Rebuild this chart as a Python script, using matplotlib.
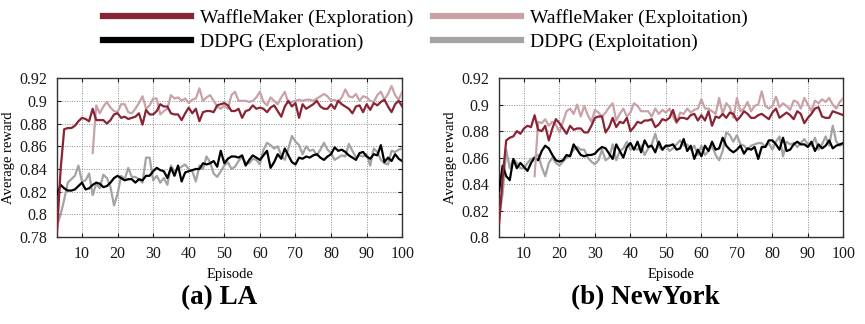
import matplotlib
matplotlib.use("Agg")
import matplotlib.pyplot as plt
from matplotlib.ticker import FuncFormatter, MultipleLocator

plt.rcParams['font.family'] = ['Liberation Serif', 'DejaVu Serif']

episodes = list(range(3, 101))
episodes_late = list(range(13, 101))

# ---- LA ----
la_wm_explore = [0.785, 0.840, 0.875, 0.876, 0.876, 0.878, 0.882, 0.885, 0.884, 0.882,
                 0.893, 0.883, 0.883, 0.883, 0.880, 0.883, 0.888, 0.889, 0.885, 0.886,
                 0.884, 0.885, 0.886, 0.889, 0.879, 0.892, 0.888, 0.888, 0.891, 0.897,
                 0.895, 0.895, 0.889, 0.888, 0.888, 0.883, 0.889, 0.894, 0.889, 0.893,
                 0.882, 0.890, 0.891, 0.891, 0.890, 0.896, 0.897, 0.898, 0.896, 0.891,
                 0.891, 0.893, 0.885, 0.891, 0.892, 0.896, 0.893, 0.894, 0.893, 0.890,
                 0.894, 0.896, 0.891, 0.886, 0.895, 0.900, 0.895, 0.898, 0.885, 0.897,
                 0.893, 0.895, 0.897, 0.900, 0.895, 0.893, 0.893, 0.897, 0.893, 0.900,
                 0.897, 0.895, 0.893, 0.889, 0.895, 0.896, 0.890, 0.897, 0.892, 0.898,
                 0.896, 0.899, 0.901, 0.895, 0.890, 0.897, 0.900, 0.895]
la_wm_exploit = [0.854, 0.896, 0.889, 0.895, 0.899, 0.894, 0.891, 0.890, 0.897, 0.897,
                 0.890, 0.889, 0.893, 0.898, 0.904, 0.893, 0.896, 0.902, 0.902, 0.888,
                 0.891, 0.893, 0.905, 0.902, 0.903, 0.900, 0.902, 0.898, 0.901, 0.902,
                 0.911, 0.900, 0.903, 0.905, 0.900, 0.895, 0.893, 0.896, 0.893, 0.905,
                 0.908, 0.900, 0.900, 0.900, 0.899, 0.900, 0.903, 0.908, 0.899, 0.896,
                 0.903, 0.900, 0.897, 0.903, 0.908, 0.898, 0.899, 0.900, 0.901, 0.900,
                 0.901, 0.901, 0.900, 0.902, 0.904, 0.906, 0.904, 0.900, 0.901, 0.899,
                 0.903, 0.910, 0.904, 0.903, 0.906, 0.900, 0.904, 0.903, 0.900, 0.899,
                 0.905, 0.908, 0.901, 0.906, 0.913, 0.905, 0.901, 0.908]
la_ddpg_explore = [0.818, 0.826, 0.823, 0.821, 0.821, 0.822, 0.825, 0.828, 0.822, 0.823,
                   0.826, 0.828, 0.827, 0.824, 0.825, 0.828, 0.832, 0.834, 0.832, 0.830,
                   0.831, 0.831, 0.828, 0.831, 0.830, 0.834, 0.834, 0.838, 0.841, 0.839,
                   0.838, 0.832, 0.841, 0.834, 0.843, 0.829, 0.837, 0.838, 0.839, 0.840,
                   0.840, 0.845, 0.844, 0.845, 0.847, 0.842, 0.856, 0.845, 0.849, 0.851,
                   0.851, 0.850, 0.852, 0.843, 0.848, 0.852, 0.850, 0.848, 0.852, 0.856,
                   0.841, 0.846, 0.853, 0.849, 0.858, 0.852, 0.846, 0.844, 0.850, 0.849,
                   0.851, 0.850, 0.852, 0.853, 0.850, 0.848, 0.851, 0.853, 0.859, 0.856,
                   0.857, 0.855, 0.852, 0.850, 0.848, 0.854, 0.855, 0.851, 0.849, 0.853,
                   0.852, 0.861, 0.846, 0.850, 0.847, 0.853, 0.849, 0.847]
la_ddpg_exploit = [0.790, 0.800, 0.813, 0.828, 0.831, 0.834, 0.843, 0.829, 0.830, 0.836,
                   0.817, 0.827, 0.823, 0.835, 0.832, 0.824, 0.808, 0.818, 0.834, 0.831,
                   0.841, 0.833, 0.833, 0.831, 0.828, 0.850, 0.850, 0.830, 0.834, 0.828,
                   0.832, 0.826, 0.843, 0.838, 0.840, 0.842, 0.844, 0.840, 0.838, 0.829,
                   0.843, 0.840, 0.851, 0.846, 0.836, 0.833, 0.838, 0.843, 0.846, 0.840,
                   0.842, 0.847, 0.851, 0.845, 0.845, 0.849, 0.848, 0.844, 0.857, 0.863,
                   0.861, 0.858, 0.860, 0.852, 0.848, 0.858, 0.869, 0.864, 0.861, 0.853,
                   0.860, 0.856, 0.857, 0.852, 0.857, 0.863, 0.857, 0.854, 0.848, 0.850,
                   0.852, 0.851, 0.862, 0.856, 0.850, 0.852, 0.851, 0.853, 0.843, 0.858,
                   0.855, 0.848, 0.845, 0.844, 0.856, 0.855, 0.857, 0.858]

# ---- NewYork ----
ny_wm_explore = [0.810, 0.845, 0.873, 0.875, 0.876, 0.880, 0.878, 0.882, 0.884, 0.883,
                 0.892, 0.881, 0.880, 0.884, 0.873, 0.882, 0.889, 0.886, 0.882, 0.878,
                 0.884, 0.881, 0.882, 0.882, 0.879, 0.879, 0.884, 0.890, 0.891, 0.891,
                 0.879, 0.883, 0.890, 0.883, 0.887, 0.886, 0.890, 0.880, 0.883, 0.887,
                 0.886, 0.888, 0.888, 0.889, 0.883, 0.885, 0.889, 0.888, 0.890, 0.896,
                 0.887, 0.890, 0.890, 0.889, 0.892, 0.893, 0.888, 0.892, 0.888, 0.895,
                 0.884, 0.891, 0.890, 0.893, 0.890, 0.894, 0.893, 0.888, 0.891, 0.895,
                 0.893, 0.890, 0.890, 0.892, 0.893, 0.891, 0.889, 0.894, 0.897, 0.890,
                 0.892, 0.894, 0.892, 0.889, 0.895, 0.893, 0.886, 0.890, 0.893, 0.897,
                 0.898, 0.891, 0.890, 0.890, 0.895, 0.894, 0.893, 0.892]
ny_wm_exploit = [0.846, 0.887, 0.886, 0.889, 0.884, 0.887, 0.885, 0.879, 0.887, 0.895,
                 0.897, 0.893, 0.900, 0.891, 0.899, 0.892, 0.887, 0.896, 0.894, 0.891,
                 0.894, 0.898, 0.901, 0.888, 0.893, 0.897, 0.891, 0.894, 0.901, 0.899,
                 0.895, 0.895, 0.895, 0.891, 0.897, 0.893, 0.896, 0.894, 0.897, 0.891,
                 0.886, 0.894, 0.893, 0.897, 0.894, 0.896, 0.897, 0.904, 0.897, 0.897,
                 0.895, 0.893, 0.905, 0.893, 0.901, 0.898, 0.890, 0.905, 0.895, 0.897,
                 0.902, 0.895, 0.899, 0.900, 0.910, 0.899, 0.897, 0.899, 0.906, 0.898,
                 0.901, 0.899, 0.896, 0.903, 0.902, 0.897, 0.905, 0.900, 0.895, 0.903,
                 0.901, 0.904, 0.902, 0.905, 0.900, 0.897, 0.902, 0.905]
ny_ddpg_explore = [0.835, 0.854, 0.846, 0.843, 0.859, 0.852, 0.856, 0.853, 0.850, 0.856,
                   0.860, 0.858, 0.865, 0.869, 0.867, 0.862, 0.858, 0.857, 0.858, 0.862,
                   0.861, 0.870, 0.866, 0.862, 0.861, 0.862, 0.862, 0.863, 0.866, 0.868,
                   0.867, 0.863, 0.859, 0.870, 0.865, 0.860, 0.868, 0.871, 0.866, 0.872,
                   0.864, 0.873, 0.868, 0.869, 0.864, 0.872, 0.866, 0.869, 0.869, 0.870,
                   0.866, 0.867, 0.874, 0.865, 0.869, 0.859, 0.866, 0.861, 0.869, 0.865,
                   0.872, 0.866, 0.867, 0.875, 0.869, 0.866, 0.864, 0.866, 0.869, 0.863,
                   0.867, 0.866, 0.868, 0.859, 0.868, 0.868, 0.873, 0.873, 0.870, 0.866,
                   0.875, 0.865, 0.866, 0.870, 0.872, 0.870, 0.870, 0.868, 0.872, 0.865,
                   0.870, 0.867, 0.869, 0.873, 0.867, 0.869, 0.870, 0.871]
ny_ddpg_exploit = [0.815, 0.833, 0.866, 0.852, 0.859, 0.856, 0.852, 0.852, 0.856, 0.859,
                   0.860, 0.862, 0.853, 0.846, 0.856, 0.860, 0.856, 0.854, 0.857, 0.860,
                   0.862, 0.866, 0.868, 0.866, 0.866, 0.860, 0.857, 0.855, 0.858, 0.866,
                   0.858, 0.860, 0.870, 0.858, 0.865, 0.867, 0.872, 0.866, 0.867, 0.866,
                   0.869, 0.862, 0.867, 0.870, 0.878, 0.868, 0.866, 0.869, 0.865, 0.867,
                   0.870, 0.873, 0.869, 0.870, 0.866, 0.869, 0.862, 0.869, 0.862, 0.865,
                   0.869, 0.862, 0.858, 0.865, 0.879, 0.877, 0.872, 0.877, 0.870, 0.869,
                   0.866, 0.869, 0.870, 0.871, 0.871, 0.868, 0.871, 0.866, 0.872, 0.876,
                   0.861, 0.872, 0.870, 0.871, 0.868, 0.871, 0.874, 0.870, 0.869, 0.875,
                   0.866, 0.870, 0.876, 0.869, 0.884, 0.872, 0.869, 0.870]

series_labels = ["WaffleMaker (Exploration)", "WaffleMaker (Exploitation)",
                 "DDPG (Exploration)", "DDPG (Exploitation)"]
series_colors = ["#8a2333", "#c9a2a8", "#000000", "#a3a3a3"]

panels = [
    dict(title="(a) LA", ylim=(0.78, 0.92), title_x=0.253,
         data=[la_wm_explore, la_wm_exploit, la_ddpg_explore, la_ddpg_exploit]),
    dict(title="(b) NewYork", ylim=(0.80, 0.92), title_x=0.746,
         data=[ny_wm_explore, ny_wm_exploit, ny_ddpg_explore, ny_ddpg_exploit]),
]

fig = plt.figure(figsize=(8.65, 3.24), dpi=100)
axes = [fig.add_axes([0.066, 0.268, 0.399, 0.491]),
        fig.add_axes([0.577, 0.268, 0.398, 0.491])]

fmt = FuncFormatter(lambda v, p: ("%.2f" % v).rstrip("0").rstrip("."))
handles = []
for ax, panel in zip(axes, panels):
    wm_e, wm_x, dd_e, dd_x = panel["data"]
    draw_order = [(dd_x, episodes, 3), (dd_e, episodes, 2),
                  (wm_x, episodes_late, 1), (wm_e, episodes, 0)]
    lines = {}
    for ys, xs, idx in draw_order:
        ln, = ax.plot(xs, ys, color=series_colors[idx], lw=1.6,
                      label=series_labels[idx], zorder=3 + (3 - idx) * 0.1)
        lines[idx] = ln
    handles = [lines[0], lines[2], lines[1], lines[3]]
    ax.set_xlim(3, 100)
    ax.set_ylim(*panel["ylim"])
    ax.xaxis.set_major_locator(MultipleLocator(10))
    ax.yaxis.set_major_locator(MultipleLocator(0.02))
    ax.yaxis.set_major_formatter(fmt)
    ax.grid(True, color="#8c8c8c", linestyle=(0, (1, 1.5)), linewidth=0.7)
    ax.tick_params(direction="in", length=3, labelsize=11.5, colors="#1a1a1a",
                   top=True, right=True)
    ax.tick_params(axis="y", pad=7)
    ax.tick_params(axis="x", pad=6)
    for sp in ax.spines.values():
        sp.set_color("#333333")
        sp.set_linewidth(1.0)
    ax.set_xlabel("Episode", fontsize=10.5, labelpad=5)
    ax.set_ylabel("Average reward", fontsize=10.5, labelpad=3)
    fig.text(panel["title_x"], 1 - 298 / 324, panel["title"], fontsize=19.5,
             fontweight="bold", ha="center", va="center")

leg = fig.legend(handles=handles, labels=[h.get_label() for h in handles],
                 loc="center", bbox_to_anchor=(0.492, 0.908), ncol=2,
                 frameon=False, fontsize=14, handlelength=4.5,
                 columnspacing=1.0, handletextpad=0.5, labelspacing=0.3)
for ln in leg.get_lines():
    ln.set_linewidth(4.5)

fig.savefig("out.png", dpi=100)
